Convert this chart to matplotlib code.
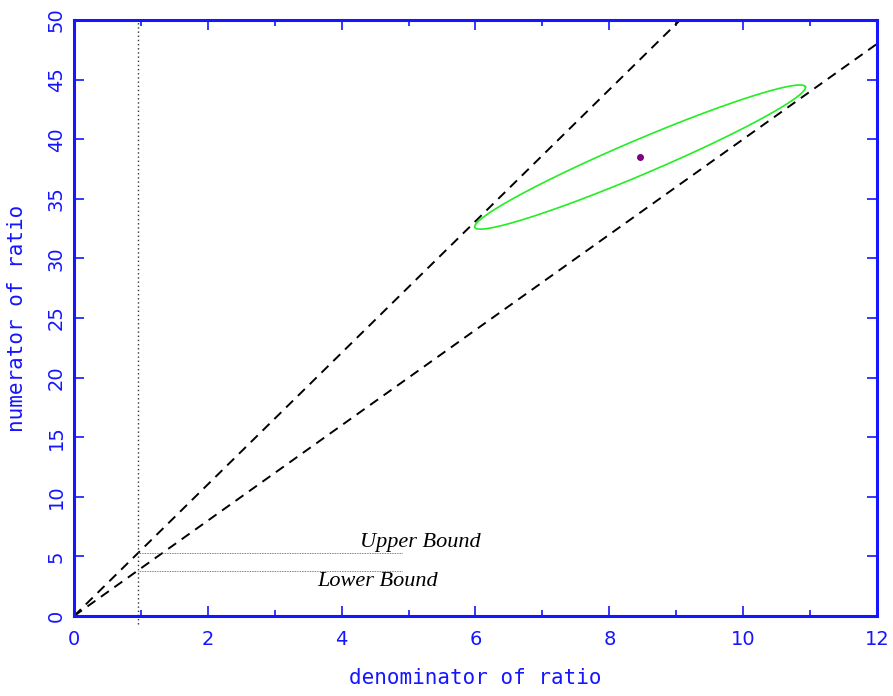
import numpy as np
import matplotlib
matplotlib.use("Agg")
import matplotlib.pyplot as plt
from matplotlib.ticker import MultipleLocator

# ratio bound lines through the origin
upper_slope = 5.52
lower_slope = 4.0
denom_limit = 0.95          # vertical dotted line

# confidence ellipse: centre and two semi-axis vectors (data units)
centre = (8.46, 38.5)
major_vec = (2.47, 5.9)
minor_vec = (0.10, -1.33)

label_upper = "Upper Bound"
label_lower = "Lower Bound"

blue = "#1515ff"
plt.rcParams['font.family'] = ['DejaVu Sans']

fig = plt.figure(figsize=(8.93, 6.96), dpi=100)
ax = fig.add_axes([74/893, 80/696, (877-74)/893, (616-20)/696])

xs = np.array([0, 12])
ax.plot(xs, upper_slope * xs, color="black", ls=(0, (5, 3.5)), lw=1.4)
ax.plot(xs, lower_slope * xs, color="black", ls=(0, (5, 3.5)), lw=1.4)

ax.plot([denom_limit, denom_limit], [-0.7, 50], color="#333333", ls=(0, (1, 2)),
        lw=1.0, clip_on=False)
ax.plot([denom_limit, 4.9], [upper_slope * denom_limit] * 2, color="#555555",
        ls=(0, (1, 1)), lw=0.6)
ax.plot([denom_limit, 4.9], [lower_slope * denom_limit] * 2, color="#555555",
        ls=(0, (1, 1)), lw=0.6)

t = np.linspace(0, 2 * np.pi, 400)
ex = centre[0] + major_vec[0] * np.cos(t) + minor_vec[0] * np.sin(t)
ey = centre[1] + major_vec[1] * np.cos(t) + minor_vec[1] * np.sin(t)
ax.plot(ex, ey, color="#22ee22", lw=1.2)
ax.plot(centre[0], centre[1], "o", color="#800080", ms=4)

ax.text(4.27, 6.2, label_upper, family="Liberation Serif", style="italic",
        fontsize=16, va="center", ha="left")
ax.text(3.63, 2.9, label_lower, family="Liberation Serif", style="italic",
        fontsize=16, va="center", ha="left")

ax.set_xlim(0, 12)
ax.set_ylim(0, 50)
ax.xaxis.set_major_locator(MultipleLocator(2))
ax.xaxis.set_minor_locator(MultipleLocator(1))
ax.yaxis.set_major_locator(MultipleLocator(5))

for s in ax.spines.values():
    s.set_color(blue)
    s.set_linewidth(2.2)
ax.tick_params(which="both", direction="in", top=True, right=True, colors=blue,
               labelsize=14)
ax.tick_params(which="major", length=7, width=1.2)
ax.tick_params(which="minor", length=4, width=1.2)
ax.tick_params(axis="x", pad=10)
ax.tick_params(axis="y", pad=6)
for lab in ax.get_yticklabels():
    lab.set_rotation(90)
    lab.set_va("center")

ax.set_xlabel("denominator of ratio", color=blue, fontsize=15, labelpad=14,
              family="DejaVu Sans Mono")
ax.set_ylabel("numerator of ratio", color=blue, fontsize=15, labelpad=14,
              family="DejaVu Sans Mono")

fig.savefig("out.png", dpi=100)
